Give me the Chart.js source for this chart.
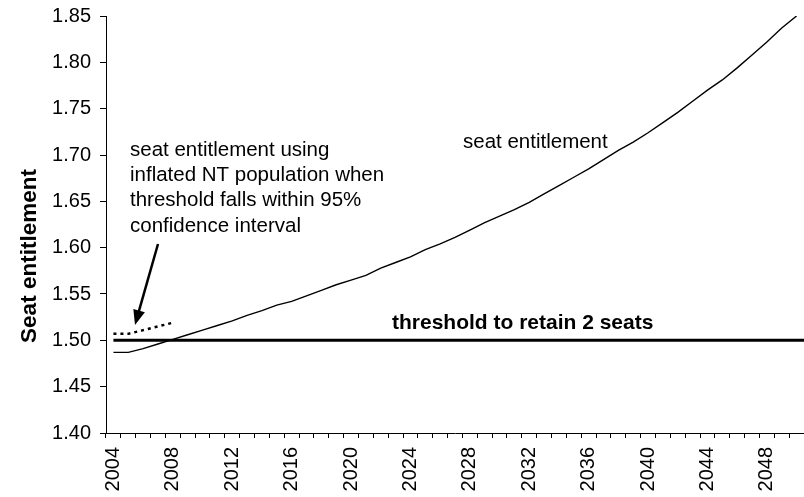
<!DOCTYPE html>
<html>
<head>
<meta charset="utf-8">
<script src="https://cdn.jsdelivr.net/npm/chart.js@4.4.0/dist/chart.umd.min.js"></script>
<style>
  html, body { margin: 0; padding: 0; background: #fff; }
  #wrap { width: 804px; height: 497px; position: relative; }
</style>
</head>
<body>
<div id="wrap"><canvas id="chart"></canvas></div>
<script>
// --- Datos ---
const YEARS = [
  '2004','2005','2006','2007','2008','2009','2010','2011','2012','2013',
  '2014','2015','2016','2017','2018','2019','2020','2021','2022','2023',
  '2024','2025','2026','2027','2028','2029','2030','2031','2032','2033',
  '2034','2035','2036','2037','2038','2039','2040','2041','2042','2043',
  '2044','2045','2046','2047','2048','2049','2050'
];

// Seat entitlement (línea continua)
const SEAT_ENTITLEMENT = [
  1.487, 1.487, 1.491, 1.496, 1.501, 1.506, 1.511, 1.516, 1.521, 1.527,
  1.532, 1.538, 1.542, 1.548, 1.554, 1.560, 1.565, 1.570, 1.578, 1.584,
  1.590, 1.598, 1.604, 1.611, 1.619, 1.627, 1.634, 1.641, 1.649, 1.658,
  1.667, 1.676, 1.685, 1.695, 1.705, 1.714, 1.724, 1.735, 1.746, 1.758,
  1.770, 1.781, 1.794, 1.808, 1.822, 1.837, 1.850
];

// Seat entitlement con población NT inflada (punteada, solo primeros años)
const SEAT_INFLATED = [1.507, 1.507, 1.511, 1.515, 1.519];

const THRESHOLD = 1.5;

const Y_MIN = 1.40;
const Y_MAX = 1.85;
const Y_STEP = 0.05;

const NOTE_LINES = [
  'seat entitlement using',
  'inflated NT population when',
  'threshold falls within 95%',
  'confidence interval'
];

const FONT = '"Liberation Sans", Arial, sans-serif';

// --- Plugin: umbral, textos y flecha ---
const overlayPlugin = {
  id: 'overlay',
  afterDatasetsDraw(chart) {
    const { ctx, chartArea, scales } = chart;
    const x = scales.x, y = scales.y;
    ctx.save();

    // Línea de umbral
    const yT = y.getPixelForValue(THRESHOLD);
    ctx.strokeStyle = '#000';
    ctx.lineWidth = 3;
    ctx.beginPath();
    ctx.moveTo(x.getPixelForValue(0), yT);
    ctx.lineTo(chartArea.right, yT);
    ctx.stroke();

    ctx.fillStyle = '#000';
    ctx.textBaseline = 'middle';
    ctx.textAlign = 'left';

    // Etiqueta del umbral
    ctx.font = 'bold 21px ' + FONT;
    ctx.fillText('threshold to retain 2 seats', 392, 323);

    // Etiqueta de la serie
    ctx.font = '20.5px ' + FONT;
    ctx.fillText('seat entitlement', 463, 142);

    // Nota de la serie inflada
    NOTE_LINES.forEach((line, i) => ctx.fillText(line, 130, 150 + i * 25.3));

    // Flecha
    const x0 = 158, y0 = 244, x1 = 135, y1 = 325;
    const ang = Math.atan2(y1 - y0, x1 - x0);
    const headLen = 15, headW = 6;
    ctx.lineWidth = 2.5;
    ctx.beginPath();
    ctx.moveTo(x0, y0);
    ctx.lineTo(x1 - Math.cos(ang) * headLen * 0.8, y1 - Math.sin(ang) * headLen * 0.8);
    ctx.stroke();
    ctx.beginPath();
    ctx.moveTo(x1, y1);
    ctx.lineTo(x1 - Math.cos(ang) * headLen - Math.sin(ang) * headW,
               y1 - Math.sin(ang) * headLen + Math.cos(ang) * headW);
    ctx.lineTo(x1 - Math.cos(ang) * headLen + Math.sin(ang) * headW,
               y1 - Math.sin(ang) * headLen - Math.cos(ang) * headW);
    ctx.closePath();
    ctx.fill();

    // Título del eje Y (más abajo que el centro del eje)
    ctx.translate(30, 256);
    ctx.rotate(-Math.PI / 2);
    ctx.textAlign = 'center';
    ctx.font = 'bold 22.5px ' + FONT;
    ctx.fillText('Seat entitlement', 0, 0);

    ctx.restore();
  }
};

new Chart(document.getElementById('chart'), {
  type: 'line',
  data: {
    labels: YEARS,
    datasets: [
      {
        label: 'seat entitlement',
        data: SEAT_ENTITLEMENT,
        borderColor: '#000',
        borderWidth: 1.4,
        pointRadius: 0,
        tension: 0,
        fill: false
      },
      {
        label: 'seat entitlement using inflated NT population',
        data: SEAT_INFLATED,
        borderColor: '#000',
        borderWidth: 2.5,
        borderDash: [3, 4],
        pointRadius: 0,
        tension: 0,
        fill: false
      }
    ]
  },
  options: {
    responsive: true,
    maintainAspectRatio: false,
    animation: false,
    layout: { padding: { top: 16, right: 0, bottom: 0, left: 0 } },
    plugins: {
      legend: { display: false },
      tooltip: { enabled: false }
    },
    scales: {
      x: {
        type: 'category',
        offset: true,
        grid: {
          offset: true,
          drawOnChartArea: false,
          color: '#000',
          tickLength: 5,
          lineWidth: 1
        },
        border: { color: '#000', width: 1 },
        ticks: {
          autoSkip: false,
          minRotation: 90,
          maxRotation: 90,
          padding: 9,
          color: '#000',
          font: { family: FONT, size: 20 },
          callback: function (val) {
            const yr = Number(this.getLabelForValue(val));
            return (yr - 2004) % 4 === 0 ? String(yr) : '';
          }
        },
        afterFit: (scale) => {
          scale.height = 64;
          scale.paddingLeft = 0;
          scale.paddingRight = 0;
        }
      },
      y: {
        min: Y_MIN,
        max: Y_MAX,
        grid: {
          drawOnChartArea: false,
          color: '#000',
          tickLength: 6
        },
        border: { color: '#000', width: 1 },
        ticks: {
          stepSize: Y_STEP,
          padding: 9,
          color: '#000',
          font: { family: FONT, size: 20 },
          callback: (v) => v.toFixed(2)
        },
        afterFit: (scale) => {
          scale.width = 106;
          scale.paddingTop = 0;
          scale.paddingBottom = 0;
        }
      }
    }
  },
  plugins: [overlayPlugin]
});
</script>
</body>
</html>
